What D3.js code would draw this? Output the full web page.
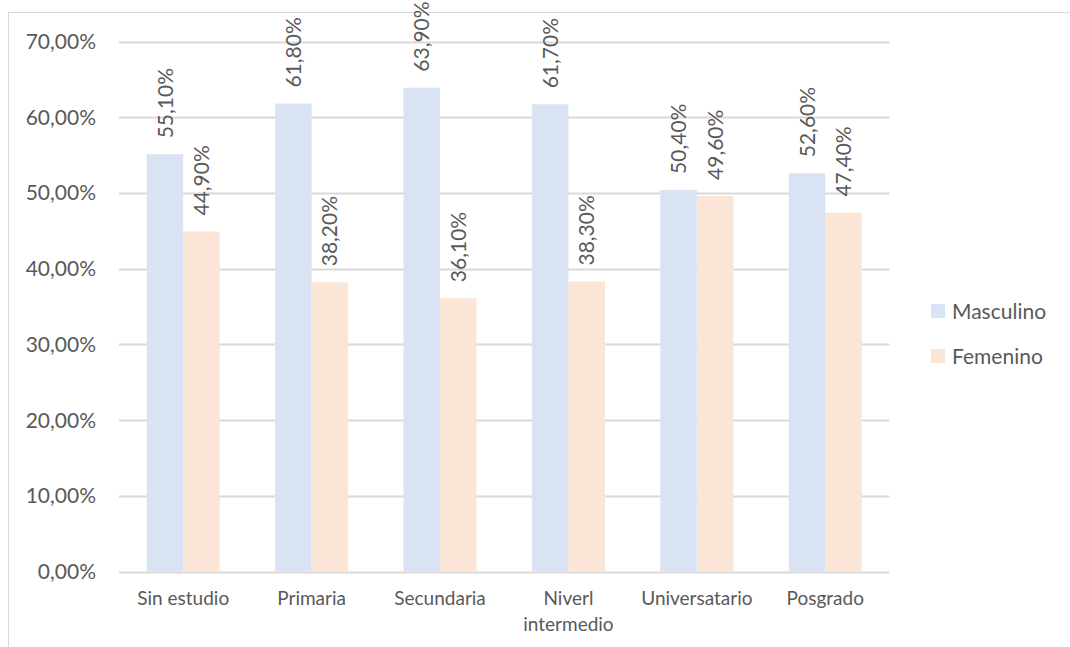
<!DOCTYPE html>
<html><head><meta charset="utf-8">
<script src="https://cdn.jsdelivr.net/npm/d3@7"></script>
<style>body{margin:0;background:#fff}svg{display:block}text{font-family:Lato,"Open Sans",sans-serif;fill:#595959}</style>
</head><body><svg id="c" width="1070" height="647"></svg>
<script>
const categories = ["Sin estudio","Primaria","Secundaria","Niverl intermedio","Universatario","Posgrado"];
const seriesNames = ["Masculino","Femenino"];
const masculino = [55.1,61.8,63.9,61.7,50.4,52.6];
const femenino = [44.9,38.2,36.1,38.3,49.6,47.4];
const yTicks = [0,10,20,30,40,50,60,70];
const colors = ["#DAE3F3","#FBE5D6"];

const svg = d3.select("#c");
const fmt = v => v.toFixed(2).replace(".", ",") + "%";
// chart border
svg.append("rect").attr("x",8.5).attr("y",12.5).attr("width",1100).attr("height",700)
  .attr("fill","none").attr("stroke","#D9D9D9").attr("stroke-width",1);

const L=119, R=889.5, T=41.5, B=571.5;
const y = d3.scaleLinear().domain([0,70]).range([B,T]);
const x0 = d3.scaleBand().domain(categories).range([L,R]).padding(0);
const bw = x0.bandwidth();
const x1 = d3.scaleBand().domain(seriesNames).range([bw*0.2155, bw*0.7845]).padding(0);

// gridlines
svg.append("g").selectAll("line").data(yTicks).join("line")
  .attr("x1",L).attr("x2",R).attr("y1",d=>Math.round(y(d))+0.5).attr("y2",d=>Math.round(y(d))+0.5)
  .attr("stroke","#D9D9D9").attr("stroke-width",2);

// y labels
svg.append("g").selectAll("text").data(yTicks).join("text")
  .attr("x",96).attr("y",d=>y(d)).attr("dy","0.36em").attr("text-anchor","end")
  .style("font-size","21px").text(d=>fmt(d));

const data = categories.map((c,i)=>({cat:c, vals:[masculino[i],femenino[i]]}));
const g = svg.append("g").selectAll("g").data(data).join("g")
  .attr("transform",d=>`translate(${x0(d.cat)},0)`);
g.selectAll("rect").data(d=>d.vals.map((v,j)=>({s:seriesNames[j],v,j}))).join("rect")
  .attr("x",d=>x1(d.s)).attr("width",x1.bandwidth())
  .attr("y",d=>y(d.v)).attr("height",d=>B-y(d.v))
  .attr("fill",d=>colors[d.j]);
g.selectAll("text.lab").data(d=>d.vals.map((v,j)=>({s:seriesNames[j],v,j}))).join("text")
  .attr("class","lab")
  .attr("transform",d=>`translate(${x1(d.s)+x1.bandwidth()/2},${y(d.v)-16}) rotate(-90)`)
  .attr("dy","0.36em").style("font-size","21px").text(d=>fmt(d.v));

// x labels
svg.append("g").selectAll("text").data(categories).join("text")
  .attr("text-anchor","middle").style("font-size","19px")
  .attr("transform",d=>`translate(${x0(d)+bw/2},605)`)
  .each(function(d){
    const words = d==="Niverl intermedio" ? ["Niverl","intermedio"] : [d];
    d3.select(this).selectAll("tspan").data(words).join("tspan")
      .attr("x",0).attr("dy",(w,i)=>i===0?0:26).text(w=>w);
  });

// legend
const lg = svg.append("g").selectAll("g").data(seriesNames).join("g")
  .attr("transform",(d,i)=>`translate(931,${311+i*45})`);
lg.append("rect").attr("x",0).attr("y",-7).attr("width",14).attr("height",14).attr("fill",(d,i)=>colors[i]);
lg.append("text").attr("x",21).attr("dy","0.36em").style("font-size","21px").text(d=>d);
</script></body></html>
